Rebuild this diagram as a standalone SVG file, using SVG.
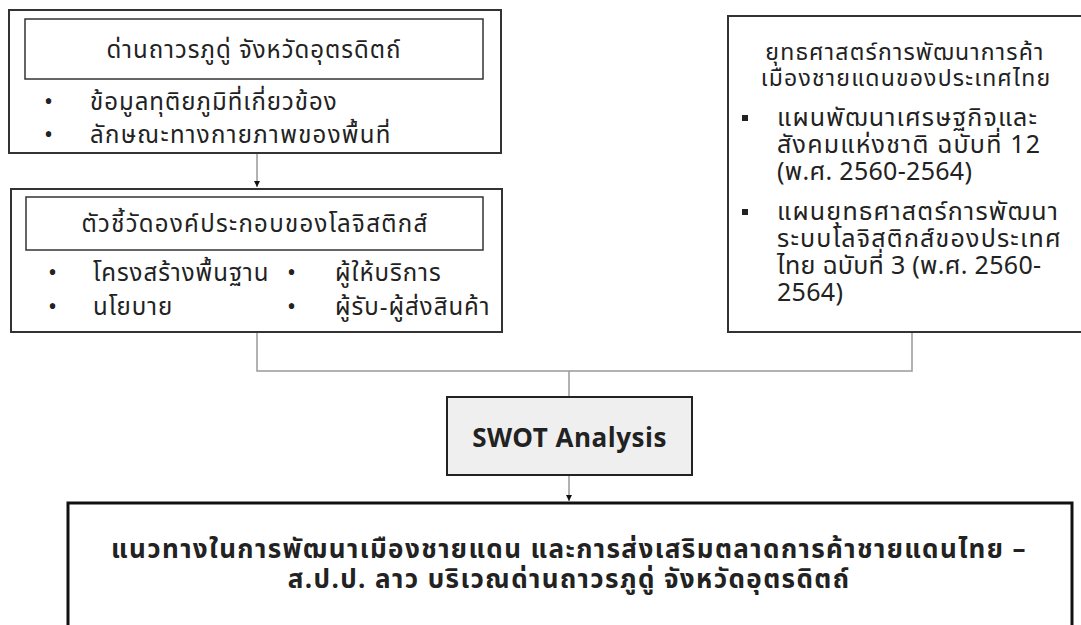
<svg xmlns="http://www.w3.org/2000/svg" width="1081" height="625" viewBox="0 0 1081 625">
<defs>
<marker id="arr" viewBox="0 0 10 10" refX="10" refY="5" markerWidth="6" markerHeight="6" markerUnits="userSpaceOnUse" orient="auto">
<path d="M0,0 L10,5 L0,10 z" fill="#111"/>
</marker>
<style>
.t{font-family:Tahoma,"Noto Sans Thai","Noto Sans","DejaVu Sans","Liberation Sans",sans-serif;fill:#222;}
.s1{font-size:24px;letter-spacing:1px;}
.s1w{font-size:24px;letter-spacing:1.3px;}
.s2{font-size:25px;letter-spacing:1.2px;}
.s2d{font-size:25px;letter-spacing:0.3px;}
.s3{font-size:23px;letter-spacing:1.2px;}
.b{font-weight:bold;}
.box{fill:#fff;stroke:#333;stroke-width:2;}
.inner{fill:#fff;stroke:#333;stroke-width:1.5;}
.con{fill:none;stroke:#999;stroke-width:1.5;}
</style>
</defs>
<rect width="1081" height="625" fill="#fff"/>
<g id="connectors">
<path class="con" d="M257,154 V187" marker-end="url(#arr)"/>
<path class="con" d="M257,333 V371 H912 V333"/>
<path class="con" d="M569,371 V397"/>
<path class="con" d="M569,475 V501" marker-end="url(#arr)"/>
</g>
<g id="node-checkpoint">
<rect class="box" x="9" y="10" width="492" height="143"/>
<rect class="inner" x="25" y="19" width="458" height="60"/>
<text class="t s1" x="254" y="58" text-anchor="middle">ด่านถาวรภูดู่ จังหวัดอุตรดิตถ์</text>
<text class="t s1" x="49" y="110" text-anchor="middle">•</text>
<text class="t s1" x="90" y="110">ข้อมูลทุติยภูมิที่เกี่ยวข้อง</text>
<text class="t s1" x="49" y="143" text-anchor="middle">•</text>
<text class="t s1w" x="90" y="143">ลักษณะทางกายภาพของพื้นที่</text>
</g>
<g id="node-logistics">
<rect class="box" x="11" y="189" width="491" height="143"/>
<rect class="inner" x="26" y="197" width="457" height="53"/>
<text class="t s1w" x="255" y="232" text-anchor="middle">ตัวชี้วัดองค์ประกอบของโลจิสติกส์</text>
<text class="t s1" x="53" y="281" text-anchor="middle">•</text>
<text class="t s1" x="93" y="281">โครงสร้างพื้นฐาน</text>
<text class="t s1" x="292" y="281" text-anchor="middle">•</text>
<text class="t s1" x="335" y="281">ผู้ให้บริการ</text>
<text class="t s1" x="53" y="315" text-anchor="middle">•</text>
<text class="t s1" x="93" y="315">นโยบาย</text>
<text class="t s1" x="292" y="315" text-anchor="middle">•</text>
<text class="t s1" x="335" y="315">ผู้รับ-ผู้ส่งสินค้า</text>
</g>
<g id="node-strategy">
<rect class="box" x="728" y="16" width="362" height="316"/>
<text class="t s3" x="905" y="60" text-anchor="middle">ยุทธศาสตร์การพัฒนาการค้า</text>
<text class="t s3" x="906" y="86" text-anchor="middle" letter-spacing="1.6">เมืองชายแดนของประเทศไทย</text>
<rect x="742" y="115" width="6" height="6" fill="#222"/>
<text class="t s2" x="777" y="126">แผนพัฒนาเศรษฐกิจและ</text>
<text class="t s2" x="777" y="153">สังคมแห่งชาติ ฉบับที่ 12</text>
<text class="t s2d" x="777" y="180">(พ.ศ. 2560-2564)</text>
<rect x="742" y="209" width="6" height="6" fill="#222"/>
<text class="t s2" x="777" y="220">แผนยุทธศาสตร์การพัฒนา</text>
<text class="t s2" x="777" y="247">ระบบโลจิสติกส์ของประเทศ</text>
<text class="t s2d" x="777" y="274">ไทย ฉบับที่ 3 (พ.ศ. 2560-</text>
<text class="t s2d" x="777" y="301">2564)</text>
</g>
<g id="node-swot">
<rect x="447" y="397" width="245" height="78" fill="#efefef" stroke="#222" stroke-width="2"/>
<text class="t b" x="569.5" y="447" font-size="26" letter-spacing="0.5" text-anchor="middle">SWOT Analysis</text>
</g>
<g id="node-guideline">
<rect x="68" y="503" width="1004" height="140" fill="#fff" stroke="#111" stroke-width="3"/>
<text class="t b" x="569" y="558" font-size="26" letter-spacing="1.4" text-anchor="middle">แนวทางในการพัฒนาเมืองชายแดน และการส่งเสริมตลาดการค้าชายแดนไทย –</text>
<text class="t b" x="569" y="588" font-size="26" letter-spacing="1.4" text-anchor="middle">ส.ป.ป. ลาว บริเวณด่านถาวรภูดู่ จังหวัดอุตรดิตถ์</text>
</g>
</svg>
